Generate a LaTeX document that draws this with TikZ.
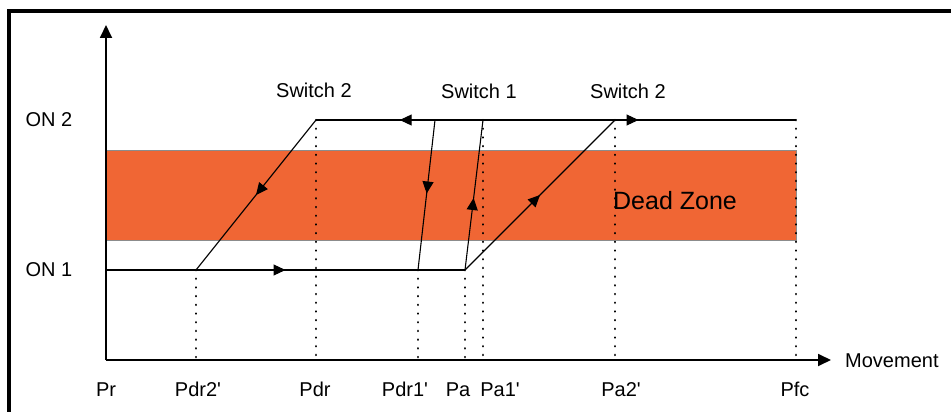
\documentclass[tikz,border=0pt]{standalone}
\usepackage{fontspec}
\setmainfont{Liberation Sans}
\newfontfamily\arial{Liberation Sans}
\usetikzlibrary{arrows.meta,decorations.markings}
\definecolor{deadzone}{RGB}{240,102,52}
\definecolor{bandedge}{RGB}{140,140,140}
\begin{document}
\begin{tikzpicture}[x=1pt,y=-1pt,
  lbl/.style={inner sep=0pt,anchor=base,font=\arial\fontsize{20}{24}\selectfont},
  axisline/.style={line width=1.8pt,-{Triangle[length=13pt,width=12pt]}},
  curve/.style={line width=1.1pt},
  midarrow/.style={postaction={decorate},decoration={markings,mark=at position #1 with {\arrow{Triangle[length=12pt,width=11pt]}}}},
  dotline/.style={line width=2.5pt,dash pattern=on 0.1pt off 8.6pt,line cap=round}
]
\useasboundingbox (0,0) rectangle (951,412);
% frame
\draw[line width=4pt] (9,414) -- (9,11) -- (953,11);
% dead zone band
\fill[deadzone,draw=bandedge,line width=0.8pt] (106,150) rectangle (796,240);
% named points
\coordinate (O) at (106,360);
\coordinate (ytop) at (106,25);
\coordinate (xend) at (831,360);
\coordinate (on1start) at (106,270);
\coordinate (pdr2) at (196,270);
\coordinate (pdr1) at (418,270);
\coordinate (pa) at (465,270);
\coordinate (pdrtop) at (316,120);
\coordinate (s1top) at (435,120);
\coordinate (pa1top) at (483,120);
\coordinate (pa2top) at (615,120);
\coordinate (pfctop) at (796,120);
\coordinate (pdr2b) at (196,360);
\coordinate (pdrb) at (316,360);
\coordinate (pdr1b) at (418,360);
\coordinate (pab) at (465,360);
\coordinate (pa1b) at (483,360);
\coordinate (pa2b) at (615,360);
\coordinate (pfcb) at (796,360);
% dotted guides
\draw[dotline] (pdr2) -- (pdr2b);
\draw[dotline] (pdrtop) -- (pdrb);
\draw[dotline] (pdr1) -- (pdr1b);
\draw[dotline] (pa) -- (pab);
\draw[dotline] (pa1top) -- (pa1b);
\draw[dotline] (pa2top) -- (pa2b);
\draw[dotline] (pfctop) -- (pfcb);
% hysteresis paths
\draw[curve,midarrow=0.5] (on1start) -- (pa);
\draw[curve,midarrow=0.72] (pa2top) -- (pdrtop);
\draw[curve,midarrow=0.13] (pa2top) -- (pfctop);
\draw[curve,midarrow=0.5] (pdrtop) -- (pdr2);
\draw[curve,midarrow=0.49] (s1top) -- (pdr1);
\draw[curve,midarrow=0.48] (pa) -- (pa1top);
\draw[curve,midarrow=0.5] (pa) -- (pa2top);
% axes
\draw[axisline] (O) -- (ytop);
\draw[axisline] (O) -- (xend);
% labels
\node[lbl] (on2lbl) at (49,126) {ON 2};
\node[lbl] (on1lbl) at (49,276) {ON 1};
\node[lbl] (sw2a) at (314,97) {Switch 2};
\node[lbl] (sw1) at (479,99) {Switch 1};
\node[lbl] (sw2b) at (628,99) {Switch 2};
\node[lbl,font=\arial\fontsize{25}{30}\selectfont] (dz) at (675,209) {Dead Zone};
\node[lbl,anchor=base west] (mv) at (845,367) {Movement};
\node[lbl] (tPr) at (106,396) {Pr};
\node[lbl] (tPdr2) at (198,396) {Pdr2'};
\node[lbl] (tPdr) at (315,396) {Pdr};
\node[lbl] (tPdr1) at (405,396) {Pdr1'};
\node[lbl] (tPa) at (458,396) {Pa};
\node[lbl] (tPa1) at (500,396) {Pa1'};
\node[lbl] (tPa2) at (621,396) {Pa2'};
\node[lbl] (tPfc) at (795,396) {Pfc};
\end{tikzpicture}
\end{document}
